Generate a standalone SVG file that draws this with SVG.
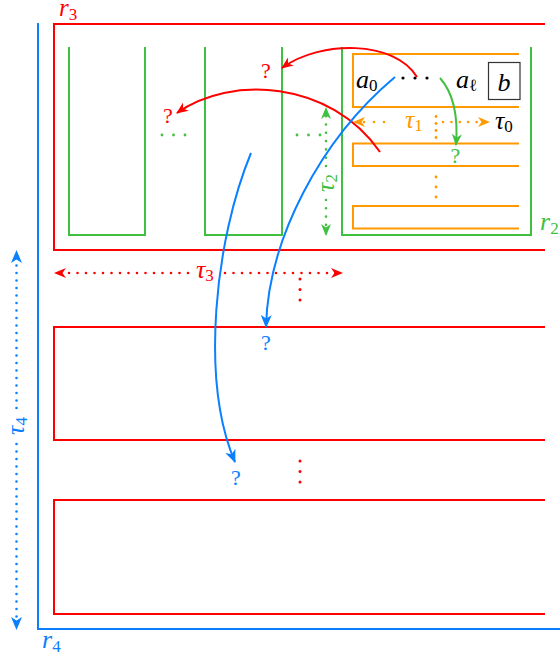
<svg xmlns="http://www.w3.org/2000/svg" width="560" height="660" viewBox="0 0 560 660">
<style>
.r{stroke:#ff0000}.g{stroke:#40c040}.o{stroke:#ff9900}.bl{stroke:#0a80ff}
.ln{fill:none;stroke-width:2}
.dot{fill:none;stroke-width:2.6;stroke-linecap:round}
.m{font-family:"Liberation Serif","DejaVu Serif",serif;font-style:italic;font-size:26px}
.s{font-style:normal;font-size:17px}
.q{font-family:"Liberation Serif","DejaVu Serif",serif;font-size:22px;text-anchor:middle}
</style>
<defs>
<marker id="aR" viewBox="0 0 12 10" refX="11" refY="5" markerWidth="12" markerHeight="10" markerUnits="userSpaceOnUse" orient="auto-start-reverse"><path d="M0,0 L12,5 L0,10 L3.5,5 Z" fill="#ff0000"/></marker>
<marker id="aG" viewBox="0 0 12 10" refX="11" refY="5" markerWidth="12" markerHeight="10" markerUnits="userSpaceOnUse" orient="auto-start-reverse"><path d="M0,0 L12,5 L0,10 L3.5,5 Z" fill="#40c040"/></marker>
<marker id="aO" viewBox="0 0 12 10" refX="11" refY="5" markerWidth="12" markerHeight="10" markerUnits="userSpaceOnUse" orient="auto-start-reverse"><path d="M0,0 L12,5 L0,10 L3.5,5 Z" fill="#ff9900"/></marker>
<marker id="aB" viewBox="0 0 13 11" refX="12" refY="5.5" markerWidth="13" markerHeight="11" markerUnits="userSpaceOnUse" orient="auto-start-reverse"><path d="M0,0 L13,5.5 L0,11 L3.5,5.5 Z" fill="#0a80ff"/></marker>
</defs>
<rect width="560" height="660" fill="#fff"/>

<g id="r4">
<path class="ln bl" d="M38,23 V629 H560"/>
<text class="m" x="42" y="648" fill="#0a80ff">r<tspan class="s" dy="4">4</tspan></text>
</g>

<g id="r3">
<path class="ln r" d="M545,24 H54 V250 H545"/>
<text class="m" x="59" y="16" fill="#ff0000" style="font-size:25px">r<tspan class="s" dy="4">3</tspan></text>
</g>
<g id="row2"><path class="ln r" d="M545,327 H54 V440 H545"/></g>
<g id="row3"><path class="ln r" d="M545,500 H54 V614 H545"/></g>

<g id="col1"><path class="ln g" d="M69,47 V235 H145 V47"/></g>
<g id="col2"><path class="ln g" d="M205,47 V235 H282 V47"/></g>
<g id="r2">
<path class="ln g" d="M342,47 V235 H531 V47"/>
<text class="m" x="540" y="230" fill="#40c040">r<tspan class="s" dy="4">2</tspan></text>
</g>

<g id="o1">
<path class="ln o" d="M519,54 H353 V107 H519"/>
<text class="m" x="356" y="88" fill="#000">a<tspan class="s" dy="3">0</tspan></text>
<circle cx="403" cy="78" r="1.6" fill="#000"/><circle cx="415" cy="78" r="1.6" fill="#000"/><circle cx="427" cy="78" r="1.6" fill="#000"/>
<text class="m" x="456" y="88" fill="#000">a<tspan class="s" dy="3">ℓ</tspan></text>
</g>
<g id="bbox">
<rect x="488.5" y="62.5" width="31.5" height="37" fill="none" stroke="#333" stroke-width="1.2"/>
<text class="m" x="504" y="91" text-anchor="middle" fill="#000">b</text>
</g>
<g id="o2"><path class="ln o" d="M519,143.5 H353 V166 H519"/></g>
<g id="o3"><path class="ln o" d="M519,206 H353 V228.5 H519"/></g>

<g id="ellipses">
<g fill="#40c040"><circle cx="162" cy="135" r="1.4"/><circle cx="173.5" cy="135" r="1.4"/><circle cx="185" cy="135" r="1.4"/><circle cx="297" cy="135" r="1.4"/><circle cx="308.5" cy="135" r="1.4"/><circle cx="320" cy="135" r="1.4"/></g>
<g fill="#ff9900"><circle cx="436" cy="116.5" r="1.4"/><circle cx="436" cy="123.5" r="1.4"/><circle cx="436" cy="130.5" r="1.4"/><circle cx="436" cy="137.5" r="1.4"/><circle cx="436" cy="177" r="1.4"/><circle cx="436" cy="187" r="1.4"/><circle cx="436" cy="197" r="1.4"/></g>
<g fill="#ff0000"><circle cx="300" cy="279" r="1.5"/><circle cx="300" cy="289.5" r="1.5"/><circle cx="300" cy="300" r="1.5"/><circle cx="300" cy="461" r="1.5"/><circle cx="300" cy="471.5" r="1.5"/><circle cx="300" cy="482" r="1.5"/></g>
</g>

<g id="measures">
<path class="dot o" stroke-dasharray="0 10" d="M384,122 H354" marker-end="url(#aO)"/>
<path class="dot o" stroke-dasharray="0 8.4" d="M443,122 H489" marker-end="url(#aO)"/>
<text class="m" x="405" y="128" fill="#ff9900">τ<tspan class="s" dy="3">1</tspan></text>
<text class="m" x="495" y="129" fill="#000">τ<tspan class="s" dy="3">0</tspan></text>

<path class="dot g" stroke-dasharray="0 8.3" d="M326,166 V108" marker-end="url(#aG)"/>
<path class="dot g" stroke-dasharray="0 8.3" d="M326,200 V235" marker-end="url(#aG)"/>
<text class="m" transform="translate(334,183) rotate(-90)" text-anchor="middle" fill="#40c040">τ<tspan class="s" dy="3">2</tspan></text>

<path class="dot r" stroke-dasharray="0 8.5" d="M188,273 H55" marker-end="url(#aR)"/>
<path class="dot r" stroke-dasharray="0 8.5" d="M225,273 H342" marker-end="url(#aR)"/>
<text class="m" x="196" y="278" fill="#ff0000">τ<tspan class="s" dy="3">3</tspan></text>

<path class="dot bl" stroke-dasharray="0 7.5" d="M16.5,408 V251" marker-end="url(#aB)"/>
<path class="dot bl" stroke-dasharray="0 7.5" d="M16.5,444 V629" marker-end="url(#aB)"/>
<text class="m" transform="translate(24,426) rotate(-90)" text-anchor="middle" fill="#0a80ff">τ<tspan class="s" dy="3">4</tspan></text>
</g>

<g id="connectors">
<path class="ln r" d="M417,77 C395,40 320,40 282,68" marker-end="url(#aR)"/>
<path class="ln r" d="M380,152 C330,80 230,75 177,113" marker-end="url(#aR)"/>
<path class="ln g" d="M440,78 C455,95 458,120 456,145" marker-end="url(#aG)"/>
<path class="ln bl" d="M395,77 C320,140 268,240 266,327" marker-end="url(#aB)"/>
<path class="ln bl" d="M251,153 C215,240 200,380 235,462" marker-end="url(#aB)"/>
</g>

<g id="queries">
<text class="q" x="266" y="78" fill="#ff0000">?</text>
<text class="q" x="168" y="123" fill="#ff0000">?</text>
<text class="q" x="455.5" y="163" fill="#40c040">?</text>
<text class="q" x="266" y="350" fill="#0a80ff">?</text>
<text class="q" x="236" y="485" fill="#0a80ff">?</text>
</g>
</svg>
